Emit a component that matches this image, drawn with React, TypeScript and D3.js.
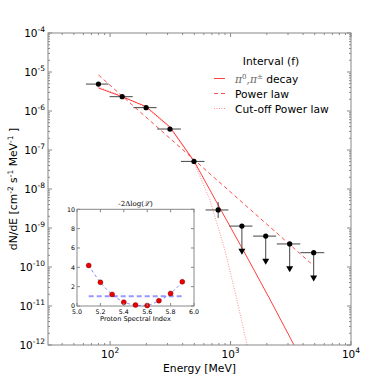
import React from "react";
import * as d3 from "d3";

// ---- main data ----
const pointE = [80, 126, 199, 314, 497, 789, 1242, 1959, 3097, 4900];
const pointF = [4.9e-6, 2.33e-6, 1.22e-6, 3.45e-7, 5.1e-8, 2.9e-9, 1.12e-9, 6.2e-10, 3.9e-10, 2.33e-10];
const binLo = [63, 99, 156, 246, 387, 620, 980, 1540, 2420, 3800];
const binHi = [97, 154, 243, 387, 608, 960, 1520, 2390, 3790, 6000];
const errLo = [null, null, null, null, null, 1.8e-9, null, null, null, null];
const errHi = [null, null, null, null, null, 4.6e-9, null, null, null, null];
const upperLimit = [false, false, false, false, false, false, true, true, true, true];
const arrowTip = [null, null, null, null, null, null, 2.47e-10, 1.37e-10, 8.7e-11, 5.1e-11];

const pionE = [80, 125.7, 198.8, 314, 497, 789, 1272, 2117, 3365];
const pionF = [3.89e-6, 2.33e-6, 1.3e-6, 3.89e-7, 5.23e-8, 3.89e-9, 2.73e-10, 1.51e-11, 1e-12];
const powerE = [80, 4830];
const powerF = [8.4e-6, 1.12e-10];
const cutoffE = [80, 125.7, 198.8, 314, 497, 674, 897, 1106, 1372];
const cutoffF = [4.12e-6, 2.43e-6, 1.23e-6, 3.66e-7, 4.92e-8, 5.23e-9, 2.73e-10, 1.9e-11, 1e-12];

const xMajor = [100, 1000, 10000];
const xMajorExp = ["2", "3", "4"];
const yMajorExp = [-4, -5, -6, -7, -8, -9, -10, -11, -12];

const legendTitle = "Interval (f)";
const legendLabels = ["decay", "Power law", "Cut-off Power law"];

// ---- inset data ----
const insetIndex = [5.1, 5.2, 5.3, 5.4, 5.5, 5.6, 5.7, 5.8, 5.9];
const insetTS = [4.2, 2.45, 1.2, 0.4, 0.1, 0.05, 0.55, 1.3, 2.5];
const insetLevel = 1;
const insetXTicks = [5.0, 5.2, 5.4, 5.6, 5.8, 6.0];
const insetYTicks = [0, 2, 4, 6, 8, 10];

const W = 379, H = 385;
const L = 48, R = 351, T = 33, B = 345;
const font = "DejaVu Sans, sans-serif";
const spine = "#888";

export default function App() {
  const x = d3.scaleLog().domain([30.5, 10000]).range([L, R]);
  const y = d3.scaleLog().domain([1e-12, 1e-4]).range([B, T]);

  const line = d3.line<[number, number]>().x(d => x(d[0])).y(d => y(d[1]));
  const pion = line(pionE.map((e, i) => [e, pionF[i]] as [number, number]));
  const power = line(powerE.map((e, i) => [e, powerF[i]] as [number, number]));
  const cutoff = line(cutoffE.map((e, i) => [e, cutoffF[i]] as [number, number]));

  // minor ticks
  const xMinor: number[] = [];
  for (let dec = 10; dec < 10000; dec *= 10) {
    for (let k = 2; k <= 9; k++) {
      const v = dec * k;
      if (v >= 30.5 && v <= 10000) xMinor.push(v);
    }
  }
  const yMinor: number[] = [];
  for (let e = -12; e < -4; e++) {
    for (let k = 2; k <= 9; k++) yMinor.push(k * Math.pow(10, e));
  }

  // inset scales
  const iL = 77, iR = 194, iT = 209.3, iB = 306;
  const ix = d3.scaleLinear().domain([5, 6]).range([iL, iR]);
  const iy = d3.scaleLinear().domain([0, 10]).range([iB, iT]);
  const insetCurve = d3
    .line<[number, number]>()
    .x(d => ix(d[0]))
    .y(d => iy(d[1]))
    .curve(d3.curveCatmullRom.alpha(0.5))(insetIndex.map((v, i) => [v, insetTS[i]] as [number, number]));

  return (
    <svg width={W} height={H} style={{ position: "absolute", left: 0, top: 0, background: "#fff" }}>
      <rect x={0} y={0} width={W} height={H} fill="#fff" />
      <defs>
        <clipPath id="mainClip">
          <rect x={L} y={T} width={R - L} height={B - T} />
        </clipPath>
      </defs>

      {/* curves */}
      <g clipPath="url(#mainClip)" fill="none">
        <path d={pion || ""} stroke="#ff0000" strokeOpacity={0.75} strokeWidth={1} />
        <path d={power || ""} stroke="#ff0000" strokeOpacity={0.7} strokeWidth={1} strokeDasharray="4,3" />
        <path d={cutoff || ""} stroke="#ff0000" strokeOpacity={0.45} strokeWidth={1} strokeDasharray="1,1.5" />
      </g>

      {/* data points */}
      <g>
        {pointE.map((e, i) => {
          const cx = x(e), cy = y(pointF[i]);
          return (
            <g key={i}>
              <line x1={x(binLo[i])} x2={x(binHi[i])} y1={cy} y2={cy} stroke="#444" strokeWidth={1} />
              {errLo[i] != null && (
                <line x1={cx} x2={cx} y1={y(errLo[i] as number)} y2={y(errHi[i] as number)} stroke="#444" strokeWidth={1} />
              )}
              {upperLimit[i] && (
                <g>
                  <line x1={cx} x2={cx} y1={cy} y2={y(arrowTip[i] as number)} stroke="#444" strokeWidth={1} />
                  <path
                    d={`M${cx - 3.5},${y(arrowTip[i] as number) - 3} L${cx + 3.5},${y(arrowTip[i] as number) - 3} L${cx},${y(arrowTip[i] as number) + 3} Z`}
                    fill="#000"
                  />
                </g>
              )}
              <circle cx={cx} cy={cy} r={2.6} fill="#000" />
            </g>
          );
        })}
      </g>

      {/* frame */}
      <rect x={L} y={T} width={R - L} height={B - T} fill="none" stroke={spine} strokeWidth={1} />
      {/* x ticks */}
      {xMajor.map((v, i) => (
        <g key={"xm" + i}>
          <line x1={x(v)} x2={x(v)} y1={B} y2={B - 4} stroke={spine} />
          <line x1={x(v)} x2={x(v)} y1={T} y2={T + 4} stroke={spine} />
          <text x={x(v)} y={358} fontFamily={font} fontSize={10.5} textAnchor="middle" fill="#000">
            10<tspan dy={-5} fontSize={7.5}>{xMajorExp[i]}</tspan>
          </text>
        </g>
      ))}
      {xMinor.map((v, i) => (
        <g key={"xn" + i}>
          <line x1={x(v)} x2={x(v)} y1={B} y2={B - 2} stroke={spine} />
          <line x1={x(v)} x2={x(v)} y1={T} y2={T + 2} stroke={spine} />
        </g>
      ))}
      {/* y ticks */}
      {yMajorExp.map((p, i) => {
        const yy = y(Math.pow(10, p));
        return (
          <g key={"ym" + i}>
            <line x1={L} x2={L + 4} y1={yy} y2={yy} stroke={spine} />
            <line x1={R} x2={R - 4} y1={yy} y2={yy} stroke={spine} />
            <text x={45} y={yy + 4} fontFamily={font} fontSize={10.5} textAnchor="end" fill="#000">
              10<tspan dy={-5} fontSize={7.5}>{"-" + Math.abs(p)}</tspan>
            </text>
          </g>
        );
      })}
      {yMinor.map((v, i) => (
        <g key={"yn" + i}>
          <line x1={L} x2={L + 2} y1={y(v)} y2={y(v)} stroke={spine} />
          <line x1={R} x2={R - 2} y1={y(v)} y2={y(v)} stroke={spine} />
        </g>
      ))}

      {/* axis labels */}
      <text x={(L + R) / 2} y={372} fontFamily={font} fontSize={10.8} textAnchor="middle" fill="#000">
        Energy [MeV]
      </text>
      <text
        transform={`translate(17,${(T + B) / 2}) rotate(-90)`}
        fontFamily={font}
        fontSize={10.8}
        textAnchor="middle"
        fill="#000"
      >
        dN/dE [cm<tspan dy={-4} fontSize={7.5}>-2</tspan>
        <tspan dy={4}> s</tspan>
        <tspan dy={-4} fontSize={7.5}>-1</tspan>
        <tspan dy={4}> MeV</tspan>
        <tspan dy={-4} fontSize={7.5}>-1</tspan>
        <tspan dy={4}> ]</tspan>
      </text>

      {/* legend */}
      <g fontFamily={font} fontSize={10.7} fill="#000">
        <text x={271} y={65} textAnchor="middle">{legendTitle}</text>
        <line x1={214} x2={225} y1={78.5} y2={78.5} stroke="#ff0000" strokeOpacity={0.75} />
        <text x={235} y={82.5}>
          <tspan fontFamily="DejaVu Serif, serif" fontStyle="italic" fill="#666">π</tspan>
          <tspan fontFamily="DejaVu Serif, serif" fontSize={7} dy={-4} fill="#666">0</tspan>
          <tspan fontFamily="DejaVu Serif, serif" dy={4} fill="#666">,</tspan>
          <tspan fontFamily="DejaVu Serif, serif" fontStyle="italic" fill="#666">π</tspan>
          <tspan fontFamily="DejaVu Serif, serif" fontSize={7} dy={-4} fill="#666">±</tspan>
          <tspan dy={4}>{"  " + legendLabels[0]}</tspan>
        </text>
        <line x1={214} x2={225} y1={93.5} y2={93.5} stroke="#ff0000" strokeOpacity={0.7} strokeDasharray="4,3" />
        <text x={235} y={97.5}>{legendLabels[1]}</text>
        <line x1={214} x2={225} y1={108.5} y2={108.5} stroke="#ff0000" strokeOpacity={0.45} strokeDasharray="1,1.5" />
        <text x={235} y={112.5}>{legendLabels[2]}</text>
      </g>

      {/* inset */}
      <g>
        <rect x={iL} y={iT} width={iR - iL} height={iB - iT} fill="#fff" stroke={spine} strokeWidth={1} />
        <path d={insetCurve || ""} fill="none" stroke="#4444ff" strokeOpacity={0.6} strokeWidth={1} strokeDasharray="3,2.5" />
        <line
          x1={ix(insetIndex[0])}
          x2={ix(insetIndex[insetIndex.length - 1])}
          y1={iy(insetLevel)}
          y2={iy(insetLevel)}
          stroke="#4444ff"
          strokeOpacity={0.55}
          strokeWidth={2}
          strokeDasharray="5,3"
        />
        {insetIndex.map((v, i) => (
          <circle key={i} cx={ix(v)} cy={iy(insetTS[i])} r={2.5} fill="#ee0000" stroke="#600" strokeWidth={0.4} />
        ))}
        {insetXTicks.map((v, i) => (
          <g key={"ix" + i}>
            <line x1={ix(v)} x2={ix(v)} y1={iB} y2={iB - 3} stroke={spine} />
            <line x1={ix(v)} x2={ix(v)} y1={iT} y2={iT + 3} stroke={spine} />
            <text x={ix(v)} y={314} fontFamily={font} fontSize={6.3} textAnchor="middle" fill="#000">
              {v.toFixed(1)}
            </text>
          </g>
        ))}
        {insetYTicks.map((v, i) => (
          <g key={"iy" + i}>
            <line x1={iL} x2={iL + 3} y1={iy(v)} y2={iy(v)} stroke={spine} />
            <line x1={iR} x2={iR - 3} y1={iy(v)} y2={iy(v)} stroke={spine} />
            <text x={75} y={iy(v) + 2.3} fontFamily={font} fontSize={6.3} textAnchor="end" fill="#000">
              {v}
            </text>
          </g>
        ))}
        <text x={(iL + iR) / 2} y={321} fontFamily={font} fontSize={6.6} textAnchor="middle" fill="#000">
          Proton Spectral Index
        </text>
        <text x={(iL + iR) / 2} y={206} fontFamily="DejaVu Serif, serif" fontSize={7} textAnchor="middle" fill="#000">
          -2Δlog(<tspan fontStyle="italic">ℒ</tspan>)
        </text>
      </g>
    </svg>
  );
}
